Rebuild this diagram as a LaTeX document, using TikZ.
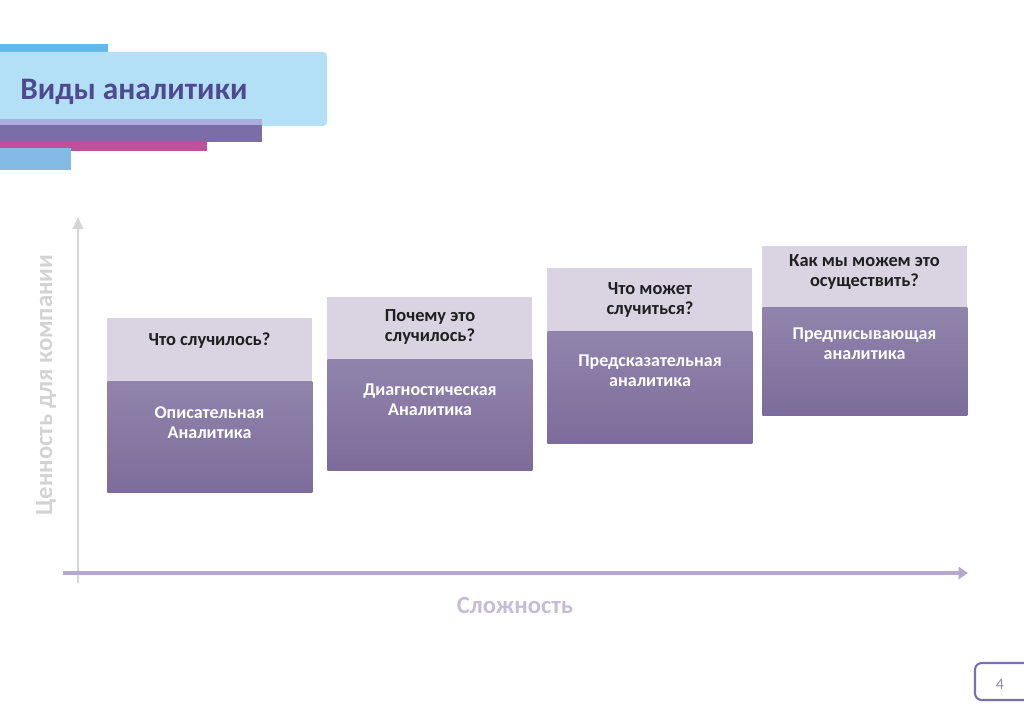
\documentclass[tikz,border=0pt]{standalone}
\usepackage{fontspec}
\setmainfont{Carlito}
\usepackage{tikz}
\usetikzlibrary{arrows.meta}
\definecolor{hdrblue}{HTML}{B3E0F7}
\definecolor{hdrsky}{HTML}{62B8E8}
\definecolor{hdrlav}{HTML}{A9AEDD}
\definecolor{hdrplum}{HTML}{7B6EA8}
\definecolor{hdrpink}{HTML}{C0509A}
\definecolor{hdrsteel}{HTML}{84BAE6}
\definecolor{titleink}{HTML}{4F4A8E}
\definecolor{askfill}{HTML}{D9D3E2}
\definecolor{anstop}{HTML}{9084AC}
\definecolor{ansbot}{HTML}{7D6C9B}
\definecolor{axisgray}{HTML}{D6D6D6}
\definecolor{axislav}{HTML}{B4A8CC}
\definecolor{labgray}{HTML}{D3D3D3}
\definecolor{lablav}{HTML}{C6BCD8}
\definecolor{pageink}{HTML}{7A6FB0}
\tikzset{
  askbox/.style={fill=askfill, anchor=north west, inner sep=0pt,
    minimum width=153.75pt, minimum height=46.5pt},
  ansbox/.style={top color=anstop, bottom color=ansbot, anchor=north west,
    inner sep=0pt, minimum width=153.75pt, minimum height=83.25pt},
  asktxt/.style={font=\bfseries\fontsize{13.8}{15}\selectfont, text=black!88,
    align=center},
  anstxt/.style={font=\bfseries\fontsize{13.5}{15}\selectfont, text=white,
    align=center},
  axlab/.style={font=\bfseries\fontsize{18.5}{22}\selectfont},
}

\begin{document}
\begin{tikzpicture}[x=0.75pt, y=-0.75pt]
  \useasboundingbox (0,0) rectangle (1024,724);
  % header band
  \fill[hdrsky] (0,44) rectangle (108,56);
  \fill[hdrblue, rounded corners=3pt] (-10,52) rectangle (327,126);
  \fill[hdrlav] (0,119) rectangle (262,126);
  \fill[hdrplum] (0,125) rectangle (262,142);
  \fill[hdrpink] (0,142) rectangle (207,151);
  \fill[hdrsteel] (0,148) rectangle (71,170);
  \node[anchor=west, font=\bfseries\fontsize{23.5}{28}\selectfont, text=titleink,
    inner sep=0pt] (title) at (20,92) {Виды аналитики};

  % axes
  \coordinate (ybot) at (78,583);
  \coordinate (ytop) at (78,217);
  \coordinate (xleft) at (63,573);
  \coordinate (xright) at (968,573);
  \draw[axisgray, line width=1.5pt, -{Triangle[length=9pt, width=8pt]}] (ybot) -- (ytop);
  \draw[axislav, line width=3pt, -{Triangle[length=7pt, width=9pt]}] (xleft) -- (xright);
  \node[axlab, text=labgray, rotate=90] (yname) at (46,385) {Ценность для компании};
  \node[axlab, text=lablav] (xname) at (515,605) {Сложность};

  % steps
  \node[askbox, minimum height=47.25pt] (q1) at (107,318) {};
  \node[ansbox] (a1) at (107,381) {};
  \node[asktxt] (q1t) at (209.5,341) {Что случилось?};
  \node[anstxt] (a1t) at (209.5,423) {Описательная\\Аналитика};

  \node[askbox] (q2) at (327,297) {};
  \node[ansbox] (a2) at (327,359) {};
  \node[asktxt] (q2t) at (430,327) {Почему это\\случилось?};
  \node[anstxt] (a2t) at (430,400) {Диагностическая\\Аналитика};

  \node[askbox, minimum height=47.25pt] (q3) at (547,268) {};
  \node[ansbox, minimum height=84pt] (a3) at (547,331) {};
  \node[asktxt] (q3t) at (650,299.5) {Что может\\случиться?};
  \node[anstxt] (a3t) at (650,371) {Предсказательная\\аналитика};

  \node[askbox, minimum height=45.75pt] (q4) at (762,246) {};
  \node[ansbox, minimum height=81pt] (a4) at (762,307) {};
  \node[asktxt] (q4t) at (864.5,272) {Как мы можем это\\осуществить?};
  \node[anstxt] (a4t) at (864.5,344) {Предписывающая\\аналитика};

  % page number
  \draw[pageink, line width=1.6pt, rounded corners=5pt] (975,663) rectangle (1040,700);
  \node[font=\fontsize{12}{14}\selectfont, text=pageink!85] (pg) at (1000,684) {4};
\end{tikzpicture}
\end{document}
